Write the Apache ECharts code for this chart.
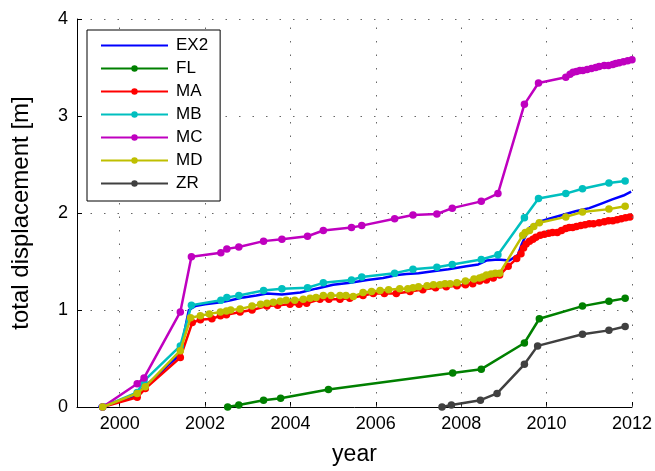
<!DOCTYPE html>
<html>
<head>
<meta charset="utf-8">
<script src="https://cdn.jsdelivr.net/npm/echarts@6/dist/echarts.min.js"></script>
<style>
  html, body { margin: 0; padding: 0; background: #fff; }
  #chart { width: 655px; height: 471px; }
</style>
</head>
<body>
<div id="chart"></div>
<script>
// Axis ticks
const yearTicks = [2000, 2002, 2004, 2006, 2008, 2010, 2012];

// Station names and colours
const stationNames = ['EX2', 'FL', 'MA', 'MB', 'MC', 'MD', 'ZR'];
const stationColors = ['#0000ff', '#008000', '#ff0000', '#00bfbf', '#bf00bf', '#bfbf00', '#404040'];

// Total displacement [m] per station, as [year, displacement]
const ex2 = [
  [1999.50, 0.00], [1999.80, 0.04], [2000.10, 0.07], [2000.37, 0.11], [2000.60, 0.22],
  [2000.90, 0.33], [2001.10, 0.42], [2001.31, 0.50], [2001.42, 0.56], [2001.55, 0.85],
  [2001.62, 1.00], [2001.77, 1.04], [2002.00, 1.06], [2002.37, 1.08], [2002.60, 1.10],
  [2002.90, 1.13], [2003.20, 1.15], [2003.45, 1.17], [2003.80, 1.16], [2004.23, 1.18],
  [2004.60, 1.22], [2005.00, 1.26], [2005.40, 1.28], [2005.80, 1.31], [2006.17, 1.33],
  [2006.50, 1.36], [2006.72, 1.37], [2007.00, 1.38], [2007.34, 1.40], [2007.70, 1.42],
  [2008.12, 1.45], [2008.40, 1.47], [2008.59, 1.51], [2008.86, 1.52], [2009.13, 1.51],
  [2009.33, 1.57], [2009.42, 1.68], [2009.60, 1.85], [2009.83, 1.91], [2010.06, 1.94],
  [2010.45, 1.99], [2010.70, 2.02], [2011.00, 2.05], [2011.30, 2.10], [2011.54, 2.14],
  [2011.80, 2.18], [2011.98, 2.22]
];

const fl = [
  [2002.53, 0.00], [2002.79, 0.02], [2003.37, 0.07], [2003.77, 0.09], [2004.89, 0.18],
  [2007.80, 0.35], [2008.47, 0.39], [2009.48, 0.66], [2009.83, 0.91], [2010.84, 1.04],
  [2011.46, 1.09], [2011.84, 1.12]
];

const ma = [
  [1999.60, 0.00], [2000.41, 0.10], [2000.60, 0.19], [2001.42, 0.51], [2001.70, 0.87],
  [2001.89, 0.90], [2002.16, 0.91], [2002.36, 0.94], [2002.50, 0.95], [2002.82, 0.98],
  [2003.10, 1.00], [2003.45, 1.04], [2003.70, 1.05], [2003.99, 1.06], [2004.20, 1.06],
  [2004.38, 1.07], [2004.69, 1.11], [2004.90, 1.11], [2005.16, 1.11], [2005.39, 1.12],
  [2005.70, 1.15], [2005.94, 1.17], [2006.20, 1.17], [2006.48, 1.17], [2006.80, 1.19],
  [2007.10, 1.21], [2007.40, 1.23], [2007.65, 1.24], [2007.90, 1.25], [2008.10, 1.26],
  [2008.27, 1.27], [2008.43, 1.30], [2008.59, 1.31], [2008.75, 1.33], [2008.90, 1.36],
  [2009.10, 1.45], [2009.30, 1.53], [2009.40, 1.58], [2009.46, 1.64], [2009.52, 1.68],
  [2009.60, 1.71], [2009.68, 1.73], [2009.75, 1.75], [2009.85, 1.77], [2009.95, 1.78],
  [2010.05, 1.79], [2010.14, 1.80], [2010.25, 1.80], [2010.35, 1.82], [2010.45, 1.84],
  [2010.53, 1.85], [2010.61, 1.85], [2010.70, 1.86], [2010.80, 1.87], [2010.90, 1.88],
  [2011.00, 1.89], [2011.10, 1.89], [2011.23, 1.90], [2011.35, 1.91], [2011.45, 1.92],
  [2011.55, 1.92], [2011.65, 1.93], [2011.75, 1.94], [2011.85, 1.95], [2011.95, 1.96]
];

const mb = [
  [1999.60, 0.00], [2000.41, 0.15], [2000.57, 0.27], [2001.42, 0.63], [2001.68, 1.05],
  [2002.37, 1.10], [2002.51, 1.13], [2002.79, 1.15], [2003.37, 1.20], [2003.80, 1.22],
  [2004.40, 1.23], [2004.77, 1.28], [2005.43, 1.31], [2005.67, 1.34], [2006.44, 1.38],
  [2006.87, 1.42], [2007.43, 1.44], [2007.79, 1.47], [2008.47, 1.52], [2008.86, 1.57],
  [2009.48, 1.95], [2009.81, 2.15], [2010.45, 2.20], [2010.84, 2.25], [2011.46, 2.31],
  [2011.84, 2.33]
];

const mc = [
  [1999.60, 0.00], [2000.41, 0.24], [2000.57, 0.30], [2001.42, 0.98], [2001.68, 1.55],
  [2002.37, 1.59], [2002.51, 1.63], [2002.79, 1.65], [2003.37, 1.71], [2003.80, 1.73],
  [2004.40, 1.76], [2004.77, 1.82], [2005.43, 1.85], [2005.67, 1.87], [2006.44, 1.94],
  [2006.87, 1.98], [2007.43, 1.99], [2007.79, 2.05], [2008.47, 2.12], [2008.86, 2.20],
  [2009.48, 3.12], [2009.81, 3.34], [2010.45, 3.40], [2010.55, 3.43], [2010.62, 3.45],
  [2010.70, 3.46], [2010.78, 3.47], [2010.85, 3.47], [2010.95, 3.48], [2011.05, 3.49],
  [2011.15, 3.50], [2011.23, 3.51], [2011.35, 3.52], [2011.45, 3.52], [2011.55, 3.53],
  [2011.62, 3.54], [2011.70, 3.55], [2011.80, 3.56], [2011.90, 3.57], [2012.00, 3.58]
];

const md = [
  [1999.60, 0.00], [2000.41, 0.14], [2000.60, 0.21], [2001.42, 0.58], [2001.66, 0.92],
  [2001.89, 0.94], [2002.10, 0.96], [2002.36, 0.98], [2002.50, 0.99], [2002.60, 1.00],
  [2002.82, 1.01], [2003.10, 1.04], [2003.30, 1.06], [2003.45, 1.07], [2003.60, 1.08],
  [2003.76, 1.09], [2003.90, 1.10], [2004.10, 1.10], [2004.30, 1.11], [2004.46, 1.12],
  [2004.60, 1.13], [2004.77, 1.15], [2004.95, 1.15], [2005.16, 1.15], [2005.30, 1.15],
  [2005.47, 1.14], [2005.70, 1.18], [2005.90, 1.19], [2006.10, 1.20], [2006.30, 1.21],
  [2006.56, 1.22], [2006.75, 1.22], [2006.87, 1.23], [2007.00, 1.24], [2007.20, 1.25],
  [2007.35, 1.26], [2007.50, 1.26], [2007.62, 1.27], [2007.74, 1.27], [2007.90, 1.28],
  [2008.10, 1.30], [2008.30, 1.32], [2008.43, 1.33], [2008.50, 1.34], [2008.59, 1.36],
  [2008.70, 1.37], [2008.80, 1.38], [2008.90, 1.38], [2009.44, 1.77], [2009.50, 1.80],
  [2009.60, 1.82], [2009.70, 1.86], [2009.83, 1.90], [2010.45, 1.96], [2010.84, 2.01],
  [2011.46, 2.04], [2011.84, 2.07]
];

const zr = [
  [2007.55, 0.00], [2007.77, 0.02], [2008.45, 0.07], [2008.84, 0.14], [2009.48, 0.44],
  [2009.79, 0.63], [2010.84, 0.75], [2011.46, 0.79], [2011.84, 0.83]
];

const stationData = [ex2, fl, ma, mb, mc, md, zr];

const FONT = "'Liberation Sans', Arial, Helvetica, sans-serif";
const GRID_DOTS = { color: '#666', width: 1, type: [1.5, 12] };

// Vertical dotted grid lines at the labelled years, carried by the first series
const yearGridLines = {
  silent: true,
  symbol: ['none', 'none'],
  animation: false,
  precision: 0,
  label: { show: false },
  lineStyle: GRID_DOTS,
  emphasis: { disabled: true },
  data: yearTicks.map(function (y) { return { xAxis: y }; })
};

const stationSeries = stationNames.map(function (name, i) {
  const hasMarkers = name !== 'EX2';
  const s = {
    name: name,
    type: 'line',
    data: stationData[i],
    symbol: hasMarkers ? 'circle' : 'none',
    symbolSize: 7.5,
    showSymbol: hasMarkers,
    lineStyle: { width: 2.5, color: stationColors[i] },
    itemStyle: { color: stationColors[i] },
    z: 2 + i,
    animation: false
  };
  if (i === 0) s.markLine = yearGridLines;
  return s;
});

// Legend entries: EX2 is drawn as a plain line without a marker
const legendItems = stationNames.map(function (name) {
  return name === 'EX2' ? { name: name, itemStyle: { opacity: 0 } } : { name: name };
});

const chart = echarts.init(document.getElementById('chart'), null, { renderer: 'canvas' });

chart.setOption({
  animation: false,
  backgroundColor: '#fff',
  grid: { left: 77, right: 22, top: 19, bottom: 59, containLabel: false },
  legend: {
    orient: 'vertical',
    left: 87,
    top: 30,
    z: 20,
    data: legendItems,
    itemWidth: 67,
    itemHeight: 8,
    itemGap: 6,
    padding: [7, 12, 9, 13],
    backgroundColor: '#fff',
    borderColor: '#000',
    borderWidth: 1,
    borderRadius: 0,
    textStyle: { fontFamily: FONT, fontSize: 17, color: '#000', padding: [0, 0, 0, 3] },
    selectedMode: false
  },
  xAxis: {
    type: 'value',
    min: 1999,
    max: 2012,
    interval: 1,
    name: 'year',
    nameLocation: 'middle',
    nameGap: 36,
    nameTextStyle: { fontFamily: FONT, fontSize: 23, color: '#000' },
    axisLine: { show: true, lineStyle: { color: '#000', width: 1 } },
    axisTick: { show: true, inside: true, length: 5, customValues: yearTicks, lineStyle: { color: '#000' } },
    axisLabel: {
      customValues: yearTicks,
      formatter: function (v) { return String(v); },
      fontFamily: FONT, fontSize: 18, color: '#000', margin: 8
    },
    splitLine: { show: false }
  },
  yAxis: {
    type: 'value',
    min: 0,
    max: 4,
    interval: 1,
    name: 'total displacement [m]',
    nameLocation: 'middle',
    nameGap: 44,
    nameTextStyle: { fontFamily: FONT, fontSize: 24, color: '#000' },
    axisLine: { show: true, lineStyle: { color: '#000', width: 1 } },
    axisTick: { show: true, inside: true, length: 5, lineStyle: { color: '#000' } },
    axisLabel: { fontFamily: FONT, fontSize: 18, color: '#000', margin: 9 },
    splitLine: { show: true, showMinLine: false, lineStyle: GRID_DOTS }
  },
  series: stationSeries
});
</script>
</body>
</html>
